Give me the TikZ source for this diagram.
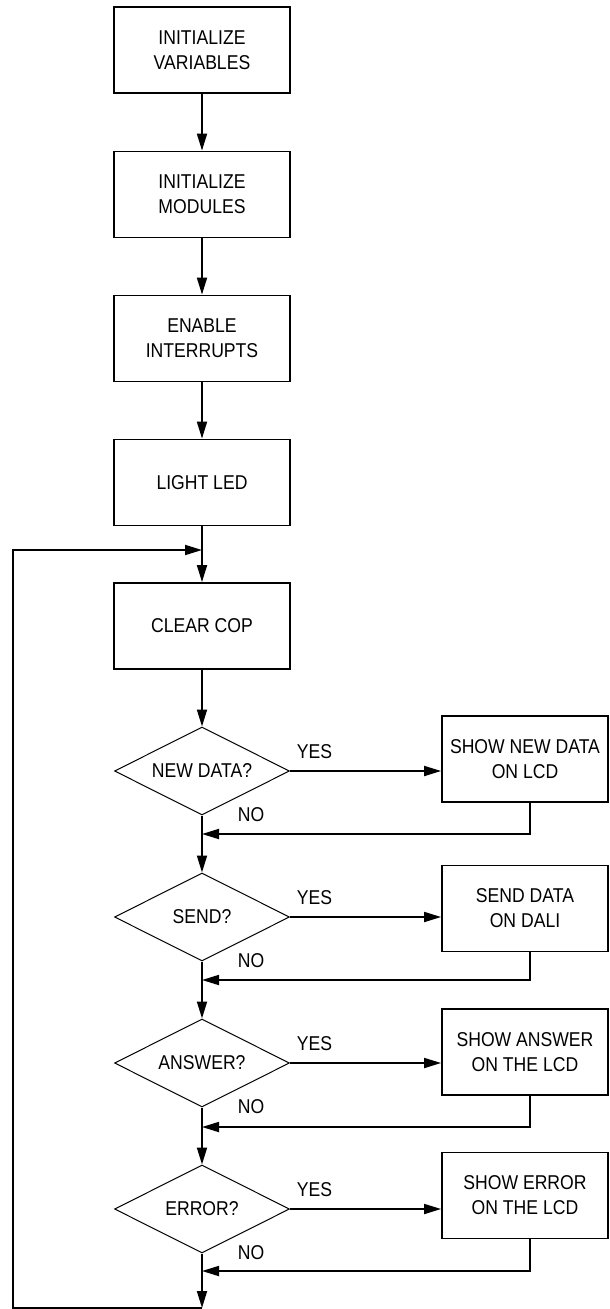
\documentclass[tikz,border=0pt]{standalone}
\usepackage{fontspec}
\setmainfont{Liberation Sans}[FakeStretch=0.88]
\usepackage{tikz}
\usetikzlibrary{arrows.meta}
\usetikzlibrary{shapes.geometric}

\tikzset{
  proc/.style={draw, line width=1.8pt, minimum width=176pt, minimum height=86pt, align=center, inner sep=0pt},
  side/.style={proc, minimum width=166pt},
  test/.style={draw, diamond, shape aspect=2, line width=1pt, minimum width=175pt, minimum height=88pt, inner sep=0pt},
  lbl/.style={inner sep=0pt},
  flow/.style={line width=1.8pt, -{Triangle[length=17pt,width=10pt]}}
}

\begin{document}
\begin{tikzpicture}[x=1pt, y=-1pt, every node/.style={font=\fontsize{20}{25}\selectfont}]
\useasboundingbox (0,0) rectangle (610,1309);

\node[proc] (init) at (202,50) {INITIALIZE\\VARIABLES};
\node[proc] (mods) at (202,194.5) {INITIALIZE\\MODULES};
\node[proc] (irq) at (202,338.5) {ENABLE\\INTERRUPTS};
\node[proc] (led) at (202,482.5) {LIGHT LED};
\node[proc] (cop) at (202,626) {CLEAR COP};

\node[test] (qnew) at (202,771) {NEW DATA?};
\node[test] (qsend) at (202,917) {SEND?};
\node[test] (qans) at (202,1063) {ANSWER?};
\node[test] (qerr) at (202,1209) {ERROR?};

\node[side] (shownew) at (525,759) {SHOW NEW DATA\\ON LCD};
\node[side] (senddali) at (525,908.5) {SEND DATA\\ON DALI};
\node[side] (showans) at (525,1052) {SHOW ANSWER\\ON THE LCD};
\node[side] (showerr) at (525,1195.5) {SHOW ERROR\\ON THE LCD};

\coordinate (top) at (202,550); \coordinate (bot) at (202,1308);
\coordinate (lft) at (13,0);
\coordinate (r1) at (530,834); \coordinate (r2) at (530,980);
\coordinate (r3) at (530,1127); \coordinate (r4) at (530,1271);

% main line
\draw[flow] (init) -- (mods);
\draw[flow] (mods) -- (irq);
\draw[flow] (irq) -- (led);
\draw[flow] (led) -- (cop);
\draw[flow] (cop) -- (qnew);
\draw[flow] (qnew) -- (qsend) node[pos=0, lbl, anchor=base west, xshift=35pt, yshift=-6pt] {NO};
\draw[flow] (qsend) -- (qans) node[pos=0, lbl, anchor=base west, xshift=35pt, yshift=-6pt] {NO};
\draw[flow] (qans) -- (qerr) node[pos=0, lbl, anchor=base west, xshift=35pt, yshift=-6pt] {NO};
\draw[flow] (qerr.south) -- (bot) node[pos=0, lbl, anchor=base west, xshift=35pt, yshift=-6pt] {NO};

% loop back
\draw[flow] (bot) -- (lft |- bot) -- (lft |- top) -- (top);

% yes branches
\draw[flow] (qnew.east) -- (qnew.east -| shownew.west) node[pos=0, lbl, anchor=base west, xshift=6pt, yshift=13pt] {YES};
\draw[flow] (qsend.east) -- (qsend.east -| senddali.west) node[pos=0, lbl, anchor=base west, xshift=6pt, yshift=13pt] {YES};
\draw[flow] (qans.east) -- (qans.east -| showans.west) node[pos=0, lbl, anchor=base west, xshift=6pt, yshift=13pt] {YES};
\draw[flow] (qerr.east) -- (qerr.east -| showerr.west) node[pos=0, lbl, anchor=base west, xshift=6pt, yshift=13pt] {YES};

% returns
\draw[flow] (shownew.south -| r1) -- (r1) -- (r1 -| qnew.south);
\draw[flow] (senddali.south -| r2) -- (r2) -- (r2 -| qsend.south);
\draw[flow] (showans.south -| r3) -- (r3) -- (r3 -| qans.south);
\draw[flow] (showerr.south -| r4) -- (r4) -- (r4 -| qerr.south);

\end{tikzpicture}
\end{document}
